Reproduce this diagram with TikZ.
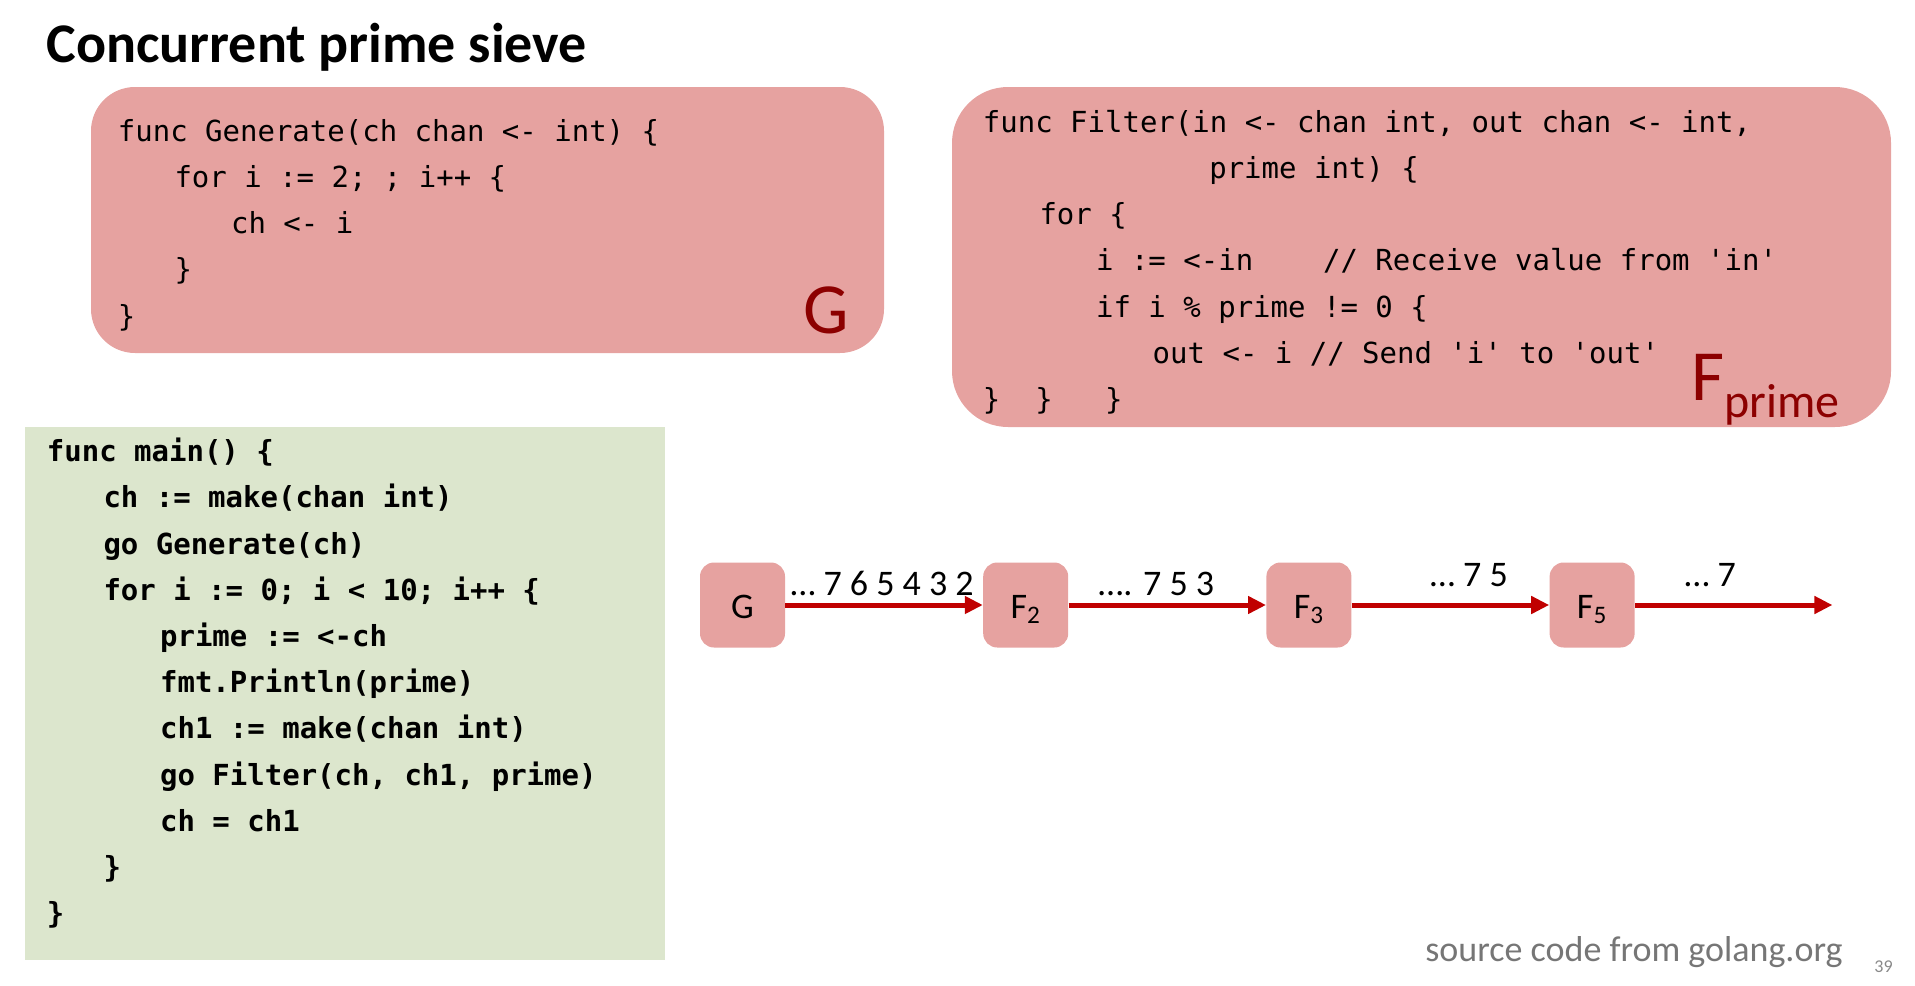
\documentclass[tikz,border=0pt]{standalone}
\usepackage{fontspec}
\setmainfont{Carlito}
\setmonofont{DejaVu Sans Mono}
\usetikzlibrary{positioning,arrows.meta}
\definecolor{boxpink}{RGB}{230,162,160}
\definecolor{boxgreen}{RGB}{220,230,205}
\definecolor{flowred}{RGB}{192,0,0}
\definecolor{tagred}{RGB}{140,0,0}
\definecolor{notegray}{RGB}{118,118,118}
\definecolor{pagegray}{RGB}{137,137,137}

\begin{document}
\begin{tikzpicture}[x=0.5pt, y=-0.5pt, node distance=98.7pt,
    code/.style={font=\ttfamily\fontsize{14.5}{17}\selectfont, anchor=base west, inner sep=0pt},
    main code/.style={code, font=\ttfamily\bfseries\fontsize{14.5}{17}\selectfont},
    tag/.style={font=\fontsize{36}{36}\selectfont, text=tagred, anchor=base west, inner sep=0pt},
    stage/.style={fill=boxpink, rounded corners=7pt, minimum size=42.5pt, inner sep=0pt,
                  text height=13pt, text depth=0pt, font=\fontsize{18}{18}\selectfont},
    flow/.style={color=flowred, line width=2.5pt, -{Triangle[length=9pt,width=8.5pt]}},
    rate/.style={font=\fontsize{18}{18}\selectfont, text=black, anchor=base, inner sep=0pt}]
    \useasboundingbox (0,0) rectangle (1915,985);

    \node[anchor=base west, inner sep=0pt, font=\bfseries\fontsize{28}{28}\selectfont] (title) at (46,62) {Concurrent prime sieve};

    % generator
    \fill[boxpink, rounded corners=22pt] (91,87) rectangle (884,353);
    \foreach \lv/\t [count=\i] in {0/{func Generate(ch chan <- int) \{}, 1/{for i := 2; ; i++ \{},
                                  2/{ch <- i}, 1/{\}}, 0/{\}}}
        \node[code] (gen\i) at ({117.5+56.6*\lv}, {141+46.3*(\i-1)}) {\t};
    \node[tag] (gtag) at (803,333) {G};

    % filter
    \fill[boxpink, rounded corners=28pt] (952,87) rectangle (1891,427);
    \foreach \lv/\t [count=\i] in {0/{func Filter(in <- chan int, out chan <- int,}, 4/{prime int) \{},
                                  1/{for \{}, 2/{i := <-in~~~~// Receive value from 'in'},
                                  2/{if i \% prime != 0 \{}, 3/{out <- i // Send 'i' to 'out'},
                                  0/{\}~~\}~~~\}}}
        \node[code] (filt\i) at ({982.5+56.6*\lv}, {132+46.3*(\i-1)}) {\t};
    \node[tag] (ftag) at (1691,400) {F\raisebox{-8.5pt}{\fontsize{24}{24}\selectfont prime}};

    % main
    \fill[boxgreen] (25,427) rectangle (665,960);
    \foreach \lv/\t [count=\i] in {0/{func main() \{}, 1/{ch := make(chan int)}, 1/{go Generate(ch)},
                                  1/{for i := 0; i < 10; i++ \{}, 2/{prime := <-ch}, 2/{fmt.Println(prime)},
                                  2/{ch1 := make(chan int)}, 2/{go Filter(ch, ch1, prime)}, 2/{ch = ch1},
                                  1/{\}}, 0/{\}}}
        \node[main code] (main\i) at ({46.5+56.6*\lv}, {461.6+46.2*(\i-1)}) {\t};

    % pipeline
    \node[stage] (g) at (742.5,605) {G};
    \node[stage, right=of g] (f2) {F\textsubscript{2}};
    \node[stage, right=of f2] (f3) {F\textsubscript{3}};
    \node[stage, right=of f3] (f5) {F\textsubscript{5}};
    \coordinate[right=of f5] (sink);

    \draw[flow] (g) -- node[rate, xshift=-1pt, yshift=4.75pt] {… 7 6 5 4 3 2} (f2);
    \draw[flow] (f2) -- node[rate, xshift=-5.5pt, yshift=4.75pt] {…. 7 5 3} (f3);
    \draw[flow] (f3) -- node[rate, xshift=9.25pt, yshift=9.25pt] {… 7 5} (f5);
    \draw[flow] (f5) -- node[rate, xshift=-11.75pt, yshift=9.25pt] {… 7} (sink);

    \node[anchor=base west, inner sep=0pt, text=notegray, font=\fontsize{18}{18}\selectfont] (src) at (1425,961) {source code from golang.org};
    \node[anchor=base west, inner sep=0pt, text=pagegray, font=\fontsize{9}{9}\selectfont] (page) at (1874,972) {39};
\end{tikzpicture}
\end{document}
